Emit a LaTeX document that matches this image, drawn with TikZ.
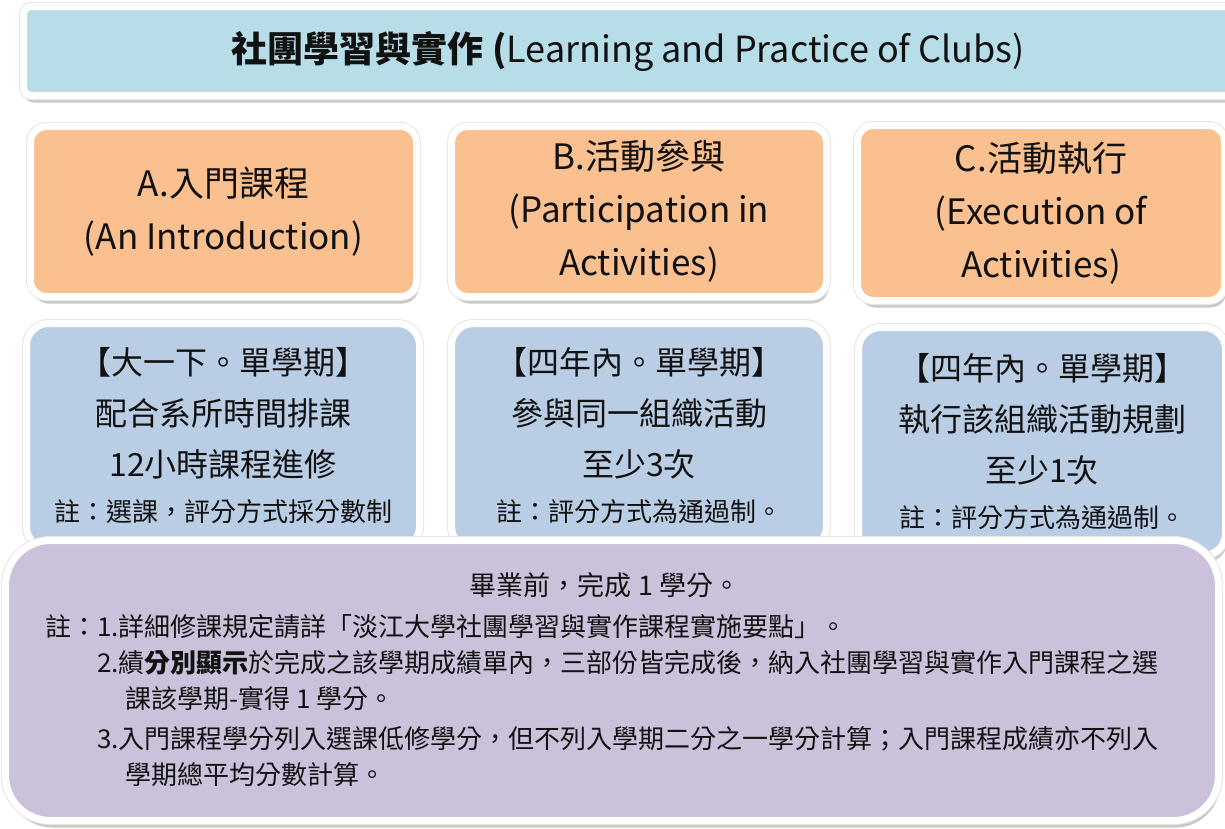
\documentclass[tikz,border=0pt]{standalone}
\usepackage{fontspec}
\setmainfont{Noto Sans CJK TC}
\usepackage{xcolor}
\usetikzlibrary{shadows}
\definecolor{titleblue}{HTML}{B7DEE8}
\definecolor{peach}{HTML}{FAC090}
\definecolor{paleblue}{HTML}{B9CDE5}
\definecolor{lilac}{HTML}{CCC1DA}
\definecolor{ink}{HTML}{111111}

\begin{document}
\begin{tikzpicture}[
  x=1pt,y=-1pt,
  card/.style={draw=white,line width=7pt,align=center,text=ink,inner sep=0pt,
    drop shadow={shadow xshift=2pt,shadow yshift=-7pt,fill=black!60,opacity=.35},
    preaction={draw=black!10,line width=9pt}},
  banner/.style={card,fill=titleblue,rounded corners=8pt,
    font=\fontsize{36}{40}\selectfont},
  partbox/.style={card,fill=peach,rounded corners=16pt,
    font=\fontsize{35}{53}\selectfont},
  rulebox/.style={card,fill=paleblue,rounded corners=22pt,
    font=\fontsize{32}{51}\selectfont},
  summarybox/.style={card,fill=lilac,rounded corners=45pt},
  small/.style={font=\fontsize{26}{36}\selectfont,text=ink,inner sep=0pt}
]
\useasboundingbox[fill=white] (0,0) rectangle (1225,828);

\node[banner,minimum width=1210,minimum height=89] (title) at (628.5,51)
  {\textbf{社團學習與實作 (}Learning and Practice of Clubs)};

\node[partbox,minimum width=386,minimum height=170] (partA) at (223.5,211.5)
  {A.入門課程\\(An Introduction)};
\node[partbox,minimum width=375,minimum height=170] (partB) at (639,211.5)
  {B.活動參與\\(Participation in\\Activities)};
\node[partbox,minimum width=367,minimum height=175] (partC) at (1041,213)
  {C.活動執行\\(Execution of\\Activities)};

\node[rulebox,minimum width=393,minimum height=225] (ruleA) at (223,436)
  {【大一下。單學期】\\配合系所時間排課\\12小時課程進修\\[-6pt]
  {\fontsize{26}{30}\selectfont 註：選課，評分方式採分數制}};
\node[rulebox,minimum width=375,minimum height=225] (ruleB) at (639,436)
  {【四年內。單學期】\\參與同一組織活動\\至少3次\\[-6pt]
  {\fontsize{26}{30}\selectfont 註：評分方式為通過制。}};
\node[rulebox,minimum width=367,minimum height=228] (ruleC) at (1042,441.5)
  {【四年內。單學期】\\執行該組織活動規劃\\至少1次\\[-6pt]
  {\fontsize{26}{30}\selectfont 註：評分方式為通過制。}};

\node[summarybox,minimum width=1213,minimum height=280] (summary) at (612,680.5) {};
\node[small,font=\fontsize{27}{36}\selectfont] (credit) at (605,585)
  {畢業前，完成 1 學分。};
\node[small,align=left,anchor=north west] (notes) at (45,614)
  {註：1.詳細修課規定請詳「淡江大學社團學習與實作課程實施要點」。\\
  \hspace*{2em}2.績\textbf{分別顯示}於完成之該學期成績單內，三部份皆完成後，納入社團學習與實作入門課程之選\\
  \hspace*{80pt}課該學期-實得 1 學分。\\[4pt]
  \hspace*{2em}3.入門課程學分列入選課低修學分，但不列入學期二分之一學分計算；入門課程成績亦不列入\\
  \hspace*{80pt}學期總平均分數計算。};
\end{tikzpicture}
\end{document}
